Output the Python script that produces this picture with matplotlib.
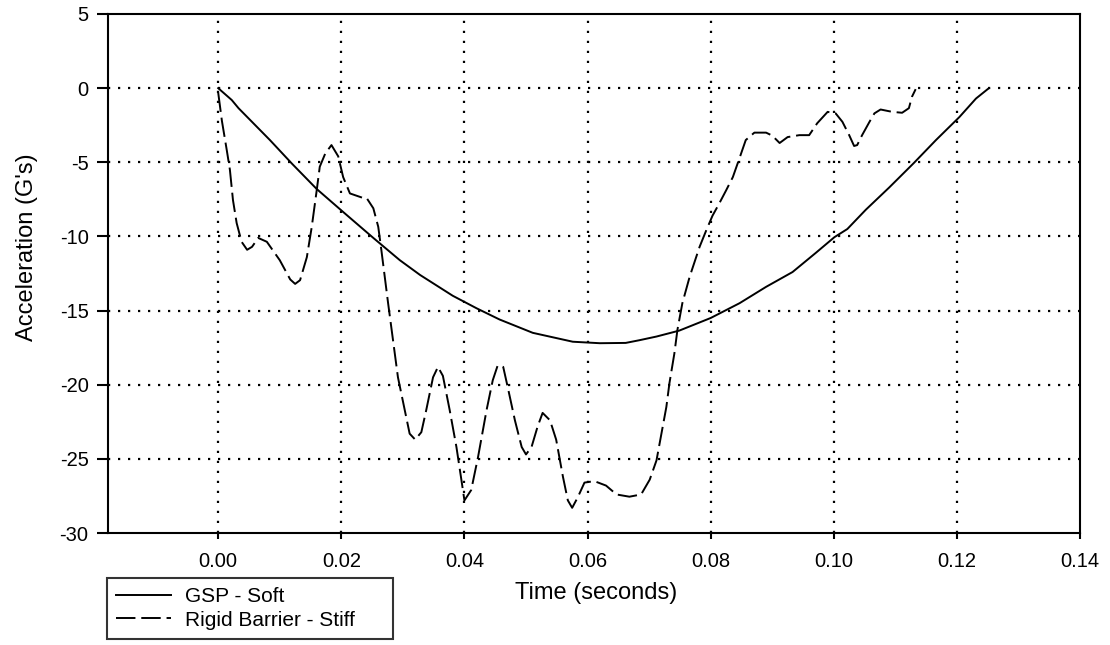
import matplotlib
matplotlib.use("Agg")
import matplotlib.pyplot as plt

plt.rcParams['font.family'] = ['Liberation Sans', 'DejaVu Sans']
plt.rcParams['axes.unicode_minus'] = False

# GSP - Soft (time in s, acceleration in G)
gsp_t = [0.0, 0.0022, 0.0033, 0.0084, 0.012, 0.016, 0.0203, 0.0252, 0.0295,
         0.0328, 0.0381, 0.042, 0.0457, 0.0511, 0.0576, 0.062, 0.0662, 0.0684,
         0.0712, 0.0749, 0.080, 0.0847, 0.089, 0.0933, 0.0971, 0.1001, 0.1022,
         0.1052, 0.109, 0.113, 0.1166, 0.1204, 0.1231, 0.1252]
gsp_a = [0.0, -0.8, -1.35, -3.5, -5.1, -6.8, -8.35, -10.1, -11.6,
         -12.6, -14.0, -14.85, -15.6, -16.5, -17.1, -17.2, -17.18, -17.0,
         -16.75, -16.35, -15.5, -14.5, -13.4, -12.4, -11.1, -10.05, -9.5,
         -8.2, -6.7, -5.05, -3.5, -1.95, -0.7, 0.0]

# Rigid Barrier - Stiff
rigid_t = [0.0, 0.0006, 0.0014, 0.0019, 0.0024, 0.003, 0.0038, 0.0047, 0.0055,
           0.0065, 0.0079, 0.010, 0.0117, 0.0125, 0.0133, 0.0144, 0.0152, 0.016,
           0.0165, 0.0174, 0.0184, 0.0195, 0.0203, 0.0214, 0.0235, 0.0241, 0.0252,
           0.026, 0.0265, 0.0276, 0.0284, 0.0292, 0.0303, 0.0311, 0.032, 0.033,
           0.0338, 0.0349, 0.0357, 0.0365, 0.0376, 0.0387, 0.0395, 0.040, 0.0411,
           0.0422, 0.0436, 0.0446, 0.0454, 0.0463, 0.047, 0.0482, 0.0493, 0.050,
           0.0509, 0.0519, 0.0527, 0.0539, 0.0549, 0.056, 0.0568, 0.0575, 0.0584,
           0.0595, 0.0611, 0.063, 0.0647, 0.0668, 0.0687, 0.0701, 0.0712, 0.072,
           0.0728, 0.0733, 0.0741, 0.0746, 0.0754, 0.0766, 0.0782, 0.0793, 0.0803,
           0.0814, 0.0825, 0.0836, 0.0847, 0.0857, 0.0871, 0.089, 0.090, 0.0912,
           0.0925, 0.0944, 0.096, 0.0973, 0.099, 0.1003, 0.1014, 0.1025, 0.1033,
           0.1038, 0.1046, 0.1058, 0.1066, 0.1076, 0.1095, 0.1111, 0.1122, 0.1127,
           0.1133]
rigid_a = [-0.3, -2.2, -4.2, -5.5, -7.55, -9.1, -10.36, -10.9, -10.7,
           -10.1, -10.36, -11.6, -12.9, -13.2, -12.95, -11.4, -9.35, -6.9,
           -5.3, -4.4, -3.84, -4.6, -6.0, -7.1, -7.4, -7.4, -8.1,
           -9.35, -10.9, -14.5, -17.0, -19.5, -21.7, -23.3, -23.7, -23.2,
           -21.7, -19.5, -18.8, -19.4, -21.7, -24.2, -26.4, -27.8, -27.1,
           -24.9, -21.7, -19.7, -18.7, -18.8, -20.1, -22.4, -24.2, -24.7,
           -24.2, -22.8, -21.9, -22.4, -23.7, -26.2, -27.8, -28.3, -27.6,
           -26.6, -26.5, -26.8, -27.4, -27.55, -27.4, -26.4, -25.1, -23.3,
           -21.5, -19.9, -17.9, -16.3, -14.5, -12.7, -10.7, -9.57, -8.6,
           -7.77, -6.9, -6.0, -4.7, -3.5, -3.0, -3.0, -3.2, -3.7,
           -3.3, -3.17, -3.17, -2.37, -1.6, -1.7, -2.27, -3.17, -3.9,
           -3.84, -3.17, -2.27, -1.7, -1.44, -1.6, -1.66, -1.35, -0.58,
           -0.07]

x_ticks = [0.00, 0.02, 0.04, 0.06, 0.08, 0.10, 0.12, 0.14]
y_ticks = [5, 0, -5, -10, -15, -20, -25, -30]

fig = plt.figure(figsize=(11.10, 6.45), dpi=100)
ax = fig.add_axes([0.0973, 0.1736, 0.8757, 0.8047])

ax.plot(gsp_t, gsp_a, color='black', lw=1.4, label='GSP - Soft')
ax.plot(rigid_t, rigid_a, color='black', lw=1.4, linestyle=(0, (10, 3)),
        label='Rigid Barrier - Stiff')

ax.set_xlim(-0.0179, 0.14)
ax.set_ylim(-30, 5)
ax.set_xticks(x_ticks)
ax.set_xticklabels(['%.2f' % v for v in x_ticks])
ax.set_yticks(y_ticks)

# dotted grid lines, only inside the frame
for v in x_ticks[:-1]:
    ax.axvline(v, color='black', lw=1.6, linestyle=(0, (1, 3.5)), zorder=0)
for v in y_ticks[1:-1]:
    ax.axhline(v, color='black', lw=1.6, linestyle=(0, (1, 3.5)), zorder=0)

for s in ax.spines.values():
    s.set_linewidth(1.5)

ax.tick_params(axis='x', direction='out', length=4.5, width=1.5, pad=9, labelsize=14.5)
ax.tick_params(axis='y', direction='out', length=8, width=1.5, pad=6, labelsize=14.5)

ax.set_xlabel('Time (seconds)', fontsize=17)
ax.xaxis.set_label_coords(0.502, -0.095)
ax.set_ylabel("Acceleration (G's)", fontsize=17)
ax.yaxis.set_label_coords(-0.072, 0.551)

leg = fig.legend(loc='upper left', bbox_to_anchor=(0.0964, 0.0109, 0.2577, 0.0930),
                 mode='expand', fontsize=15, frameon=True, fancybox=False,
                 borderaxespad=0, borderpad=0.45, labelspacing=0.2,
                 handlelength=2.6, handletextpad=0.7)
leg.get_frame().set_edgecolor('black')
leg.get_frame().set_linewidth(1.5)

fig.savefig('out.png', dpi=100)
